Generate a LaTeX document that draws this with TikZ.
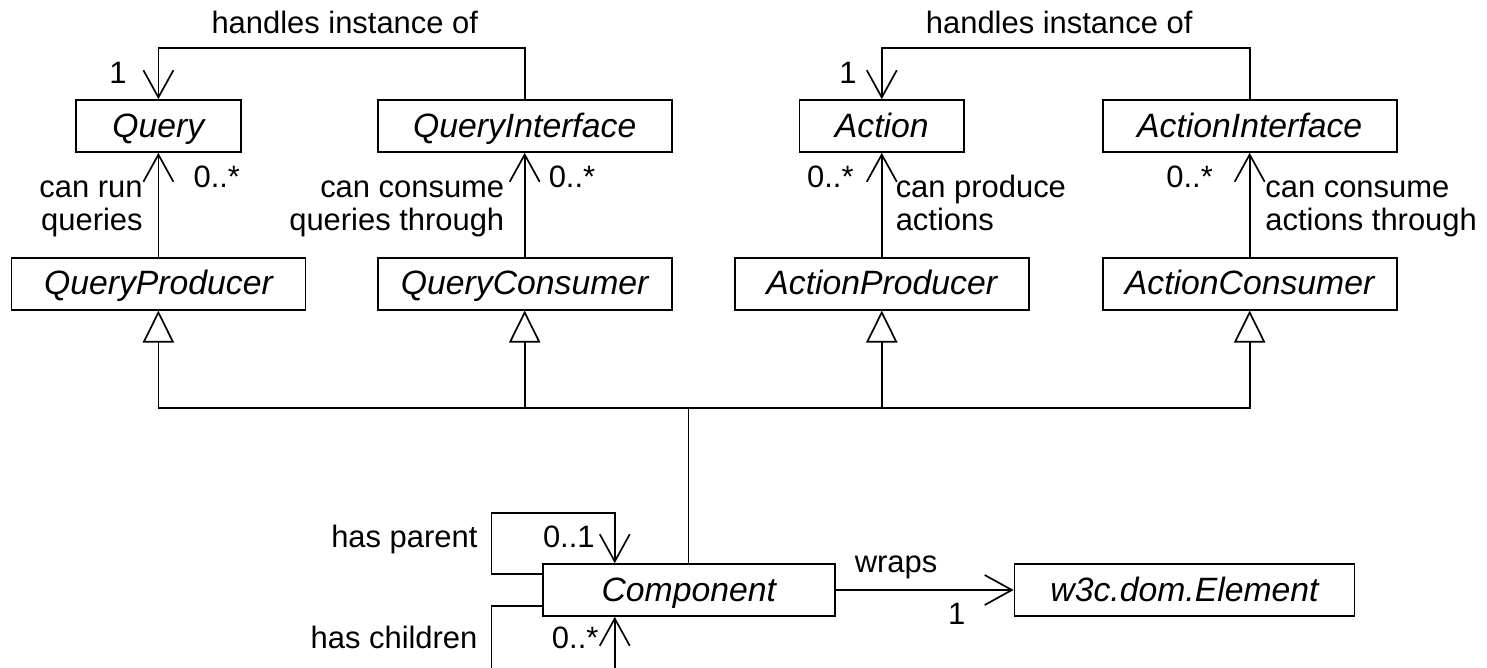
\documentclass[tikz,border=0pt]{standalone}
\usepackage{fontspec}
\setmainfont{Liberation Sans}
\usetikzlibrary{arrows.meta, positioning, calc}

\begin{document}
\begin{tikzpicture}[node distance=1.3cm, font=\fontsize{11}{11.7}\selectfont]
    \tikzstyle{cls} = [rectangle, minimum width=3.675cm, minimum height=0.65cm, text height=9.5pt, text depth=1.5pt, text centered, draw=black, semithick, font=\fontsize{12}{14}\selectfont\itshape]
    \tikzstyle{lbl} = [inner sep=0pt]
    \tikzstyle{assoc} = [semithick, -{Straight Barb[length=3.4mm, width=3.75mm]}]
    \tikzstyle{gen} = [semithick, -{Triangle[open, length=4mm, width=3.9mm]}]

    \useasboundingbox (0,0) rectangle (18.5875,-8.3375);
    \clip (0,0) rectangle (18.5875,-8.3375);

    % Classes
    \node (query) [cls, minimum width=2.06cm] at (1.98,-1.575) {Query};
    \node (qint) [cls, right=1.69cm of query] {QueryInterface};
    \node (action) [cls, minimum width=2.06cm, right=1.575cm of qint] {Action};
    \node (aint) [cls, right=1.71cm of action] {ActionInterface};

    \node (qprod) [cls, below=1.3cm of query] {QueryProducer};
    \node (qcons) [cls, below=1.3cm of qint] {QueryConsumer};
    \node (aprod) [cls, below=1.3cm of action] {ActionProducer};
    \node (acons) [cls, below=1.3cm of aint] {ActionConsumer};

    \node (comp) [cls, minimum width=3.65cm] at (8.61,-7.375) {Component};
    \node (elem) [cls, minimum width=4.25cm, right=2.225cm of comp] {w3c.dom.Element};

    % Associations
    \draw [assoc] (qint.north) -- ++(0,0.6375) -| (query.north);
    \draw [assoc] (aint.north) -- ++(0,0.6375) -| (action.north);
    \draw [assoc] (qprod) -- (query);
    \draw [assoc] (qcons) -- (qint);
    \draw [assoc] (aprod) -- (action);
    \draw [assoc] (acons) -- (aint);
    \draw [assoc] (comp) -- (elem);

    % Self associations of Component
    \draw [assoc] ($(comp.west)+(0,0.2)$) -- ++(-0.63,0) -- ++(0,0.76) -| ($(comp.north west)+(0.91,0)$);
    \draw [assoc] ($(comp.west)+(0,-0.2)$) -- ++(-0.63,0) -- ++(0,-1.2) -| ($(comp.south west)+(0.91,0)$);

    % Generalizations
    \draw (comp.north) -- ++(0,1.9375) coordinate (bus);
    \foreach \n in {qprod, qcons, aprod, acons}
        \draw [gen] (bus) -| (\n.south);

    % Labels
    \node (qhandles) [lbl, anchor=base] at (4.31,-0.4125) {handles instance of};
    \node (ahandles) [lbl, anchor=base] at (13.24,-0.4125) {handles instance of};
    \node (qone) [lbl, anchor=base] at (1.475,-1.04) {1};
    \node (aone) [lbl, anchor=base] at (10.6,-1.04) {1};

    \node (qmany) [lbl, anchor=base] at (2.71,-2.34) {0..*};
    \node (qimany) [lbl, anchor=base] at (7.15,-2.34) {0..*};
    \node (amany) [lbl, anchor=base] at (10.38,-2.34) {0..*};
    \node (aimany) [lbl, anchor=base] at (14.87,-2.34) {0..*};

    \node (qrun) [lbl, anchor=base east, align=right] at (1.79,-2.875) {can run\\queries};
    \node (qconsume) [lbl, anchor=base east, align=right] at (6.31,-2.875) {can consume\\queries through};
    \node (aproduce) [lbl, anchor=base west, align=left] at (11.19,-2.875) {can produce\\actions};
    \node (aconsume) [lbl, anchor=base west, align=left] at (15.81,-2.875) {can consume\\actions through};

    \node (parent) [lbl, anchor=base east] at (5.975,-6.84) {has parent};
    \node (parentm) [lbl, anchor=base] at (7.11,-6.84) {0..1};
    \node (children) [lbl, anchor=base east] at (5.975,-8.11) {has children};
    \node (childrenm) [lbl, anchor=base] at (7.19,-8.11) {0..*};

    \node (wraps) [lbl, anchor=base] at (11.2,-7.15) {wraps};
    \node (wrapsm) [lbl, anchor=base] at (11.96,-7.81) {1};
\end{tikzpicture}
\end{document}
